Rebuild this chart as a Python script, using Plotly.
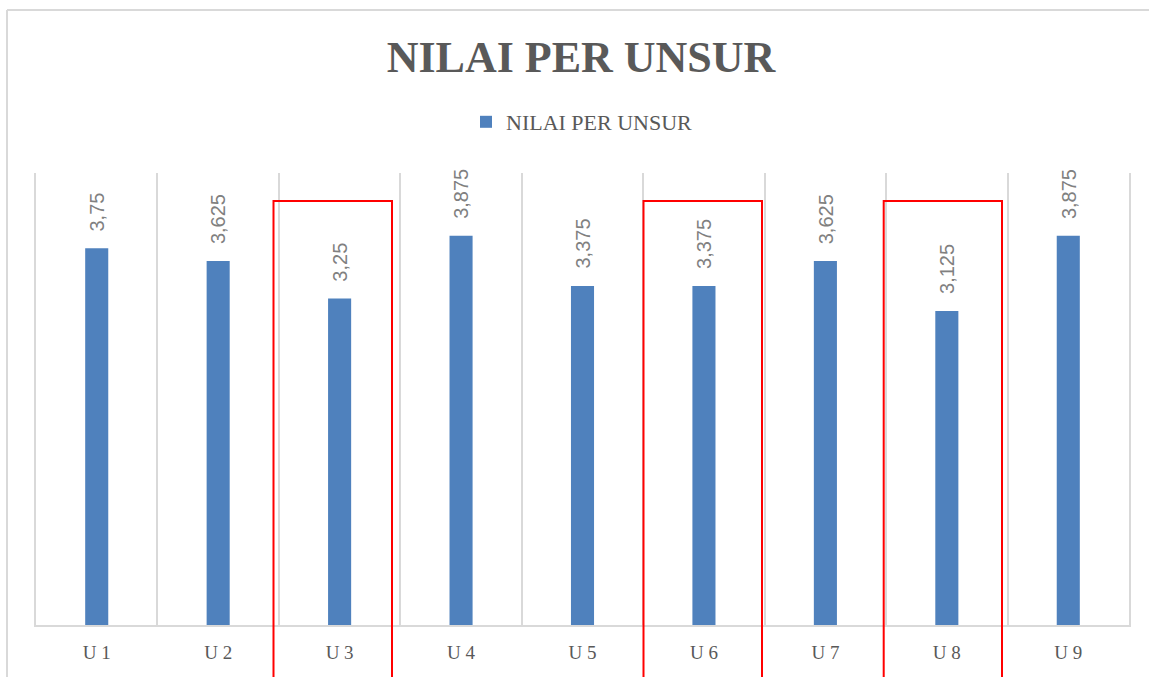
import plotly.graph_objects as go

categories = ["U 1", "U 2", "U 3", "U 4", "U 5", "U 6", "U 7", "U 8", "U 9"]
values = [3.75, 3.625, 3.25, 3.875, 3.375, 3.375, 3.625, 3.125, 3.875]
labels = [str(v).replace(".", ",") for v in values]
series_name = "NILAI PER UNSUR"
title_text = "NILAI PER UNSUR"
highlighted = ["U 3", "U 6", "U 8"]

BAR = "#4f81bd"
GRID = "#d9d9d9"
TXT = "#595959"
LBL = "#808080"

W, H = 1149, 677
ML, MR, MT, MB = 36, 20, 173, 52
PW = W - ML - MR
PH = H - MT - MB


def px_x(p):
    return (p - ML) / PW


def px_y(p):
    return (H - MB - p) / PH


fig = go.Figure()
fig.add_trace(go.Bar(
    x=categories, y=values, name=series_name,
    marker=dict(color=BAR, line=dict(width=0)),
    width=0.19, showlegend=True,
))

for c, v, t in zip(categories, values, labels):
    fig.add_annotation(
        x=c, y=v, text=t, textangle=-90, showarrow=False,
        yanchor="bottom", xanchor="center", yshift=15,
        font=dict(family="Liberation Sans, Arial, sans-serif", size=20, color=LBL),
    )

# red highlight boxes (pixel-derived, extend past the bottom of the page)
box_px = {"U 3": (273.5, 392), "U 6": (643.5, 762), "U 8": (883.7, 1002)}
for c in highlighted:
    x0, x1 = box_px[c]
    fig.add_shape(type="rect", xref="paper", yref="paper",
                  x0=px_x(x0), x1=px_x(x1), y0=px_y(700), y1=px_y(201),
                  line=dict(color="#ff0000", width=2), fillcolor="rgba(0,0,0,0)",
                  layer="above")

# outer chart frame (left and top edges visible)
fig.add_shape(type="line", xref="paper", yref="paper",
              x0=px_x(7), x1=px_x(7), y0=px_y(700), y1=px_y(10),
              line=dict(color=GRID, width=2))
fig.add_shape(type="line", xref="paper", yref="paper",
              x0=px_x(7), x1=px_x(1160), y0=px_y(10), y1=px_y(10),
              line=dict(color=GRID, width=2))

fig.update_layout(
    width=W, height=H,
    margin=dict(l=ML, r=MR, t=MT, b=MB, autoexpand=False),
    paper_bgcolor="white", plot_bgcolor="white",
    title=dict(text="<b>" + title_text + "</b>", x=581 / W,
               xanchor="center", y=1 - 57 / H, yanchor="middle",
               font=dict(family="Liberation Serif, serif", size=44, color=TXT)),
    legend=dict(orientation="h", x=px_x(582), xanchor="center", y=px_y(122), yanchor="middle",
                font=dict(family="Liberation Serif, serif", size=22, color=TXT),
                itemwidth=30, bgcolor="rgba(0,0,0,0)"),
    xaxis=dict(type="category", tickson="boundaries", showgrid=True, gridcolor=GRID,
               gridwidth=2, showline=True, linecolor=GRID, linewidth=2,
               ticks="", ticklen=0, ticklabelstandoff=9,
               tickfont=dict(family="Liberation Serif, serif", size=19, color=TXT),
               range=[-0.5, 8.5], fixedrange=True),
    yaxis=dict(range=[0, 4.5], showgrid=False, zeroline=False, showticklabels=False,
               showline=True, mirror=True, linecolor=GRID, linewidth=2,
               ticks="", fixedrange=True),
    showlegend=True,
)

fig.write_html("out.html", config={"displayModeBar": False},
               post_script="document.body.style.margin='0';")
